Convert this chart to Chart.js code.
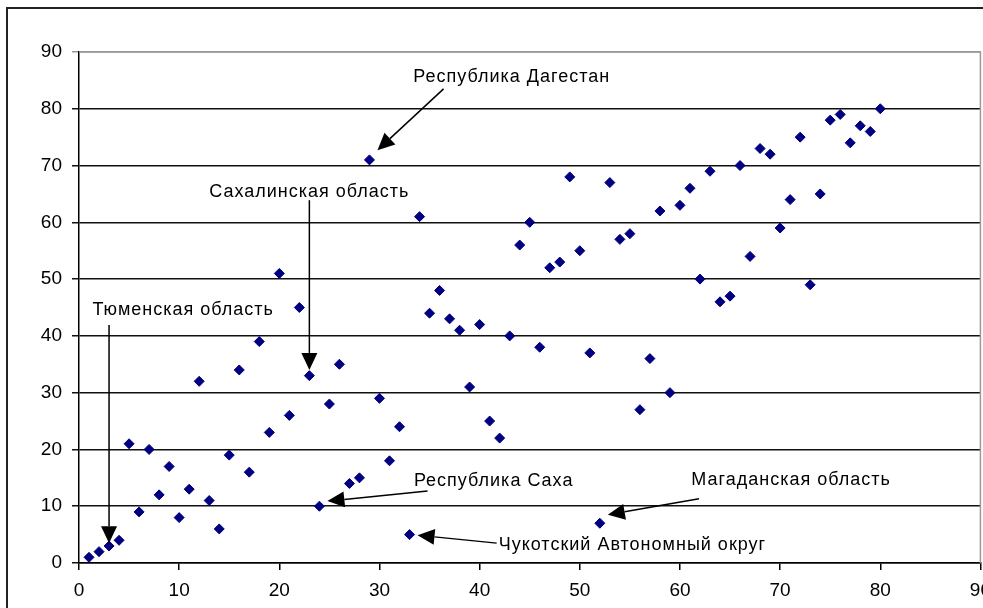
<!DOCTYPE html>
<html>
<head>
<meta charset="utf-8">
<script src="https://cdn.jsdelivr.net/npm/chart.js@4.4.1/dist/chart.umd.min.js"></script>
<style>
  html, body { margin: 0; padding: 0; background: #fff; overflow: hidden; }
  #wrap { position: absolute; left: 0; top: 0; width: 1000px; height: 640px; }
</style>
</head>
<body>
<div id="wrap"><canvas id="c" width="1000" height="640"></canvas></div>
<script>
// ---- data ----
const xValues = [1,2,3,4,5,6,7,8,9,10,11,12,13,14,15,16,17,18,19,20,
                 21,22,23,24,25,26,27,28,29,30,31,32,33,34,35,36,37,38,39,40,
                 41,42,43,44,45,46,47,48,49,50,51,52,53,54,55,56,57,58,59,60,
                 61,62,63,64,65,66,67,68,69,70,71,72,73,74,75,76,77,78,79,80];
const yValues = [1,2,3,4,21,9,20,12,17,8,13,32,11,6,19,34,16,39,23,51,
                 26,45,33,10,28,35,14,15,71,29,18,24,5,61,44,48,43,41,31,42,
                 25,22,40,56,60,38,52,53,68,55,37,7,67,57,58,27,36,62,30,63,
                 66,50,69,46,47,70,54,73,72,59,64,75,49,65,78,79,74,77,76,80];
const xTicks = [0,10,20,30,40,50,60,70,80,90];
const yTicks = [0,10,20,30,40,50,60,70,80,90];

// annotations: label, text anchor (data units), alignment, arrow start -> tip (data units)
const annoLabels = ['Республика Дагестан','Сахалинская область','Тюменская область',
                    'Республика Саха','Магаданская область','Чукотский Автономный округ'];
const annoTextX  = [43.2, 23.0, 10.4, 41.4, 71.1, 41.9];
const annoTextY  = [85.6, 65.3, 44.5, 14.4, 14.6, 3.1];
const annoAlign  = ['center','center','center','center','center','left'];
const arrowFromX = [36.4, 23.0, 3.0, 34.8, 61.9, 41.7];
const arrowFromY = [83.5, 63.9, 41.9, 12.7, 11.3, 3.5];
const arrowToX   = [29.8, 23.0, 3.0, 24.8, 52.8, 33.8];
const arrowToY   = [72.7, 34.0, 3.5, 10.9, 8.5, 4.9];

const FONT = '"Liberation Sans", Arial, sans-serif';
const CANVAS_H = 640;
const PLOT_TOP = 52, PLOT_BOTTOM = 563, PLOT_LEFT = 79;

const framePlugin = {
  id: 'frame',
  beforeDraw(chart) {
    const ctx = chart.ctx;
    ctx.save();
    ctx.fillStyle = '#fff';
    ctx.fillRect(0, 0, chart.width, chart.height);
    ctx.strokeStyle = '#222';
    ctx.lineWidth = 2;
    ctx.strokeRect(7, 8, 1200, 900);
    ctx.restore();
  },
  beforeDatasetsDraw(chart) {
    const a = chart.chartArea, ctx = chart.ctx;
    ctx.save();
    ctx.strokeStyle = '#999';
    ctx.lineWidth = 1.5;
    ctx.beginPath();
    ctx.moveTo(a.left, a.top);
    ctx.lineTo(a.right, a.top);
    ctx.lineTo(a.right, a.bottom);
    ctx.stroke();
    ctx.restore();
  }
};

const annoPlugin = {
  id: 'anno',
  afterDatasetsDraw(chart) {
    const ctx = chart.ctx, xs = chart.scales.x, ys = chart.scales.y;
    ctx.save();
    ctx.font = '18px ' + FONT;
    if ('letterSpacing' in ctx) ctx.letterSpacing = '1px';
    ctx.fillStyle = '#000';
    ctx.textBaseline = 'middle';
    for (let i = 0; i < annoLabels.length; i++) {
      ctx.textAlign = annoAlign[i];
      ctx.fillText(annoLabels[i], xs.getPixelForValue(annoTextX[i]), ys.getPixelForValue(annoTextY[i]));
      const x0 = xs.getPixelForValue(arrowFromX[i]), y0 = ys.getPixelForValue(arrowFromY[i]);
      const x1 = xs.getPixelForValue(arrowToX[i]), y1 = ys.getPixelForValue(arrowToY[i]);
      const ang = Math.atan2(y1 - y0, x1 - x0);
      const L = 17, W = 8;
      const bx = x1 - L * Math.cos(ang), by = y1 - L * Math.sin(ang);
      ctx.strokeStyle = '#000';
      ctx.lineWidth = 1.5;
      ctx.beginPath();
      ctx.moveTo(x0, y0);
      ctx.lineTo(bx, by);
      ctx.stroke();
      ctx.beginPath();
      ctx.moveTo(x1, y1);
      ctx.lineTo(bx + W * Math.sin(ang), by - W * Math.cos(ang));
      ctx.lineTo(bx - W * Math.sin(ang), by + W * Math.cos(ang));
      ctx.closePath();
      ctx.fill();
    }
    ctx.restore();
  }
};

new Chart(document.getElementById('c'), {
  type: 'scatter',
  data: {
    datasets: [{
      data: xValues.map((x, i) => ({ x: x, y: yValues[i] })),
      pointStyle: 'rectRot',
      pointRadius: 5,
      pointHoverRadius: 5,
      backgroundColor: '#000080',
      borderColor: '#000080',
      borderWidth: 1
    }]
  },
  options: {
    responsive: false,
    animation: false,
    events: [],
    layout: { padding: { left: 0, top: PLOT_TOP, right: 19, bottom: 0 } },
    plugins: { legend: { display: false }, tooltip: { enabled: false } },
    scales: {
      x: {
        type: 'linear', min: 0, max: 90,
        afterBuildTicks: (s) => { s.ticks = xTicks.map(v => ({ value: v })); },
        afterFit: (s) => { s.height = CANVAS_H - PLOT_BOTTOM; },
        ticks: { color: '#000', font: { family: FONT, size: 19 }, padding: 9, maxRotation: 0 },
        grid: { drawOnChartArea: false, drawTicks: true, tickLength: 7, color: '#000', lineWidth: 1.5 },
        border: { color: '#000', width: 1.5 }
      },
      y: {
        type: 'linear', min: 0, max: 90,
        afterBuildTicks: (s) => { s.ticks = yTicks.map(v => ({ value: v })); },
        afterFit: (s) => { s.width = PLOT_LEFT; },
        ticks: { color: '#000', font: { family: FONT, size: 19 }, padding: 10 },
        grid: {
          color: (c) => (c.tick && c.tick.value === 90) ? '#999' : '#111',
          lineWidth: 1.5, tickLength: 7, drawTicks: true
        },
        border: { color: '#000', width: 1.5 }
      }
    }
  },
  plugins: [framePlugin, annoPlugin]
});
</script>
</body>
</html>
